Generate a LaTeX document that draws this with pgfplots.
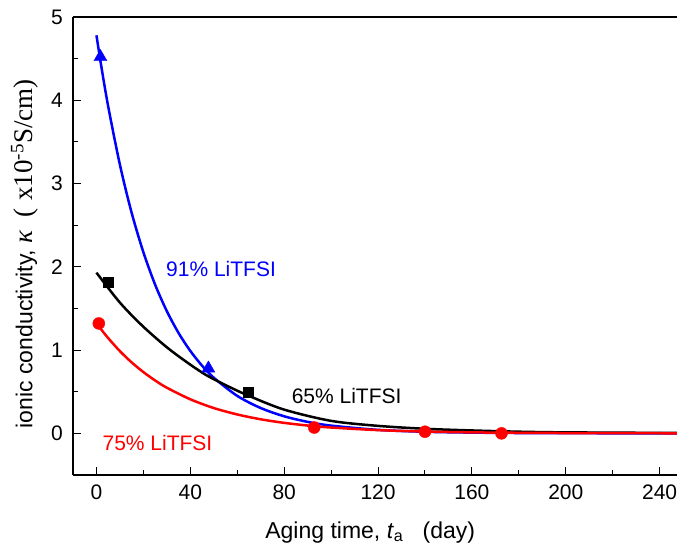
\documentclass[border=0pt]{standalone}
\usepackage{fontspec}
\setmainfont{Liberation Sans}
\newfontfamily\serf{Liberation Serif}
\usepackage{pgfplots}
\pgfplotsset{compat=1.18}
\begin{document}
\fontsize{21bp}{25bp}\selectfont
\begin{tikzpicture}
\useasboundingbox (-73bp,-75bp) rectangle (604bp,475bp);
\begin{axis}[
 scale only axis, width=604bp, height=458bp,
 xmin=-10, xmax=247.4, ymin=-0.5, ymax=5,
 axis x line*=box, axis y line*=left,
 axis line style={line width=1.2bp, black},
 xtick={0,40,...,240}, ytick={0,1,2,3,4,5},
 minor x tick num=1, minor y tick num=1,
 xtick pos=bottom, ytick pos=left,
 tick align=inside,
 major tick length=8bp, minor tick length=5bp,
 tick style={line width=1bp, black},
 /pgf/number format/assume math mode=true,
 tick label style={font=\fontsize{21bp}{25bp}\selectfont},
 xticklabel style={yshift=-3bp},
 yticklabel style={xshift=-3bp},
 xlabel={Aging time, \textit{t}\textsubscript{a}\ \ \ (day)},
 ylabel={ionic conductivity, {\fontsize{27bp}{30bp}\selectfont\serf\itshape κ}\ \ {\fontsize{27bp}{30bp}\selectfont\serf(\hspace{0.3em}x10\textsuperscript{-5}S/cm)}},
 label style={font=\fontsize{23bp}{27bp}\selectfont},
 xlabel style={at={(rel axis cs:0.492,0)}, anchor=base, yshift=-63bp},
 ylabel style={at={(axis description cs:-0.08,0.483)}, anchor=center},
 clip=false,
]
% fitted curves
\addplot[blue, line width=2.5bp, smooth] coordinates {
 (0,4.78) (2,4.418) (5,3.926) (10,3.225) (15,2.648) (20,2.175) (25,1.786) (30,1.467) (35,1.205) (40,0.990) (45,0.813) (50,0.668) (60,0.450) (70,0.304) (80,0.205) (90,0.138) (100,0.093) (120,0.042) (140,0.019) (160,0.009) (180,0.004) (200,0.002) (247.4,0.0)};
\addplot[black, line width=2.5bp, smooth] coordinates {
 (0,1.93) (10,1.57) (20,1.28) (31.5,1.0) (45,0.73) (55,0.58) (65,0.45) (80,0.285) (100,0.15) (120,0.09) (140,0.055) (160,0.035) (180,0.02) (200,0.012) (247.4,0.005)};
\addplot[red, line width=2.5bp, smooth] coordinates {
 (1.7,1.26) (5,1.144) (10,0.987) (15,0.852) (20,0.736) (25,0.635) (30,0.548) (40,0.409) (50,0.304) (60,0.227) (70,0.169) (80,0.126) (90,0.094) (100,0.070) (120,0.039) (140,0.022) (160,0.012) (180,0.007) (200,0.004) (247.4,0.001)};
% data points
\addplot[only marks, blue, mark=triangle*, mark size=7.5bp] coordinates {(1.7,4.52) (47.7,0.78)};
\addplot[only marks, black, mark=square*, mark size=5bp] coordinates {(4.8,1.81) (64.8,0.50)};
\addplot[only marks, red, mark=*, mark size=6bp] coordinates {(1,1.32) (92.8,0.07) (140,0.02) (172.6,0.0)};
\node[blue, font=\fontsize{21bp}{25bp}\selectfont] at (axis cs:53.1,1.97) {91\% LiTFSI};
\node[black, font=\fontsize{21bp}{25bp}\selectfont] at (axis cs:106.6,0.45) {65\% LiTFSI};
\node[red, font=\fontsize{21bp}{25bp}\selectfont] at (axis cs:26.0,-0.11) {75\% LiTFSI};
\end{axis}
\end{tikzpicture}
\end{document}
